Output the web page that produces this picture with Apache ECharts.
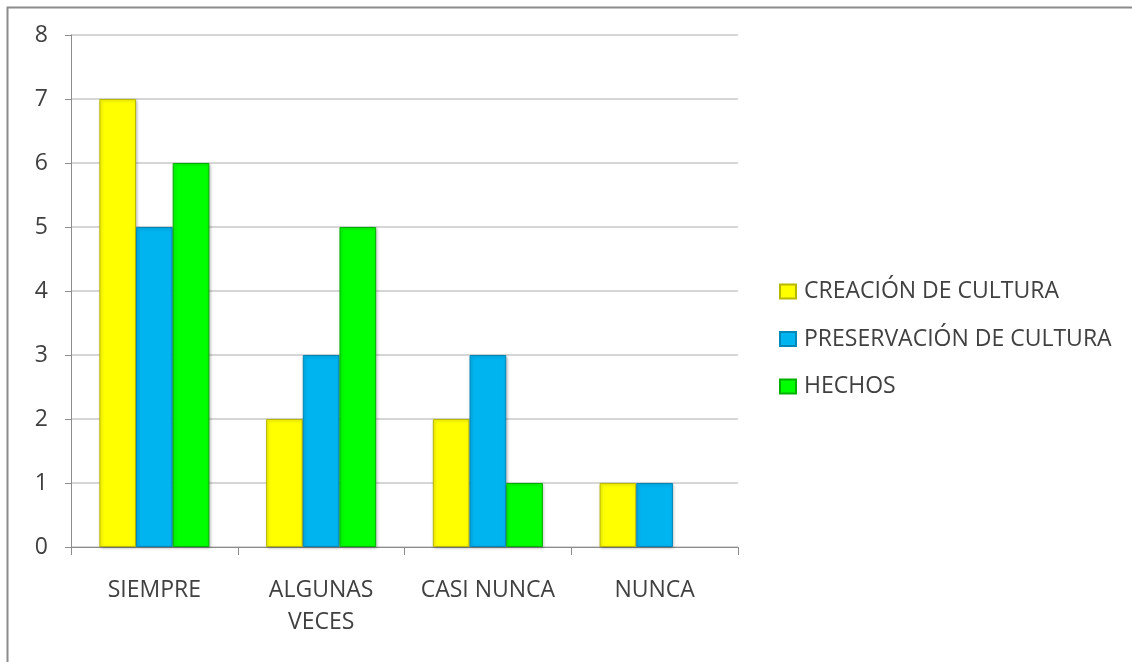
<!DOCTYPE html>
<html>
<head>
<meta charset="utf-8">
<script src="https://cdn.jsdelivr.net/npm/echarts@6/dist/echarts.min.js"></script>
<style>
  html, body { margin: 0; padding: 0; background: #fff; }
</style>
</head>
<body>
<div id="chart" style="width: 1132px; height: 662px"></div>
<script>
// categorias y valores
const categorias = ["SIEMPRE", "ALGUNAS\nVECES", "CASI NUNCA", "NUNCA"];
const creacion = [7, 2, 2, 1];
const preservacion = [5, 3, 3, 1];
const hechos = [6, 5, 1, 0];
const yTicks = [0, 8, 1];

const fuente = "'Open Sans', sans-serif";

function barra(nombre, datos, color, borde) {
  return {
    name: nombre,
    type: "bar",
    data: datos.map(v => (v === 0 ? null : v)),
    barGap: "0%",
    barCategoryGap: "34%",
    itemStyle: {
      color: color,
      borderColor: borde,
      borderWidth: 1,
      shadowColor: "rgba(0,0,0,0.25)",
      shadowBlur: 3,
      shadowOffsetX: 1,
      shadowOffsetY: 1
    }
  };
}

const chart = echarts.init(document.getElementById("chart"));

const option = {
  backgroundColor: "#ffffff",
  animation: false,
  graphic: [
    {
      type: "rect",
      left: 5,
      top: 5,
      shape: { width: 1200, height: 700 },
      style: { fill: "none", stroke: "#8c8c8c", lineWidth: 2 },
      z: 10
    }
  ],
  grid: { left: 71, right: 394, top: 35, bottom: 115 },
  legend: {
    orient: "vertical",
    left: 774,
    top: 275,
    itemWidth: 16,
    itemHeight: 14,
    itemGap: 24.5,
    icon: "rect",
    textStyle: { fontFamily: fuente, fontSize: 23, color: "#404040", padding: [0, 0, 0, 3] },
    data: ["CREACIÓN DE CULTURA", "PRESERVACIÓN DE CULTURA", "HECHOS"]
  },
  xAxis: {
    type: "category",
    data: categorias,
    axisLine: { lineStyle: { color: "#8c8c8c" } },
    axisTick: { show: true, length: 8, lineStyle: { color: "#8c8c8c" } },
    axisLabel: {
      fontFamily: fuente,
      fontSize: 23,
      color: "#404040",
      margin: 27,
      lineHeight: 32,
      interval: 0
    }
  },
  yAxis: {
    type: "value",
    min: yTicks[0],
    max: yTicks[1],
    interval: yTicks[2],
    axisLine: { show: true, lineStyle: { color: "#8c8c8c" } },
    axisTick: { show: true, length: 6, lineStyle: { color: "#8c8c8c" } },
    splitLine: { lineStyle: { color: "#c8c8c8", width: 1.5 } },
    axisLabel: {
      fontFamily: fuente,
      fontSize: 23,
      color: "#404040",
      margin: 23
    }
  },
  series: [
    barra("CREACIÓN DE CULTURA", creacion, "#ffff00", "#b8b800"),
    barra("PRESERVACIÓN DE CULTURA", preservacion, "#00b4f0", "#0088b8"),
    barra("HECHOS", hechos, "#00ff00", "#00b000")
  ]
};

chart.setOption(option);
</script>
</body>
</html>
